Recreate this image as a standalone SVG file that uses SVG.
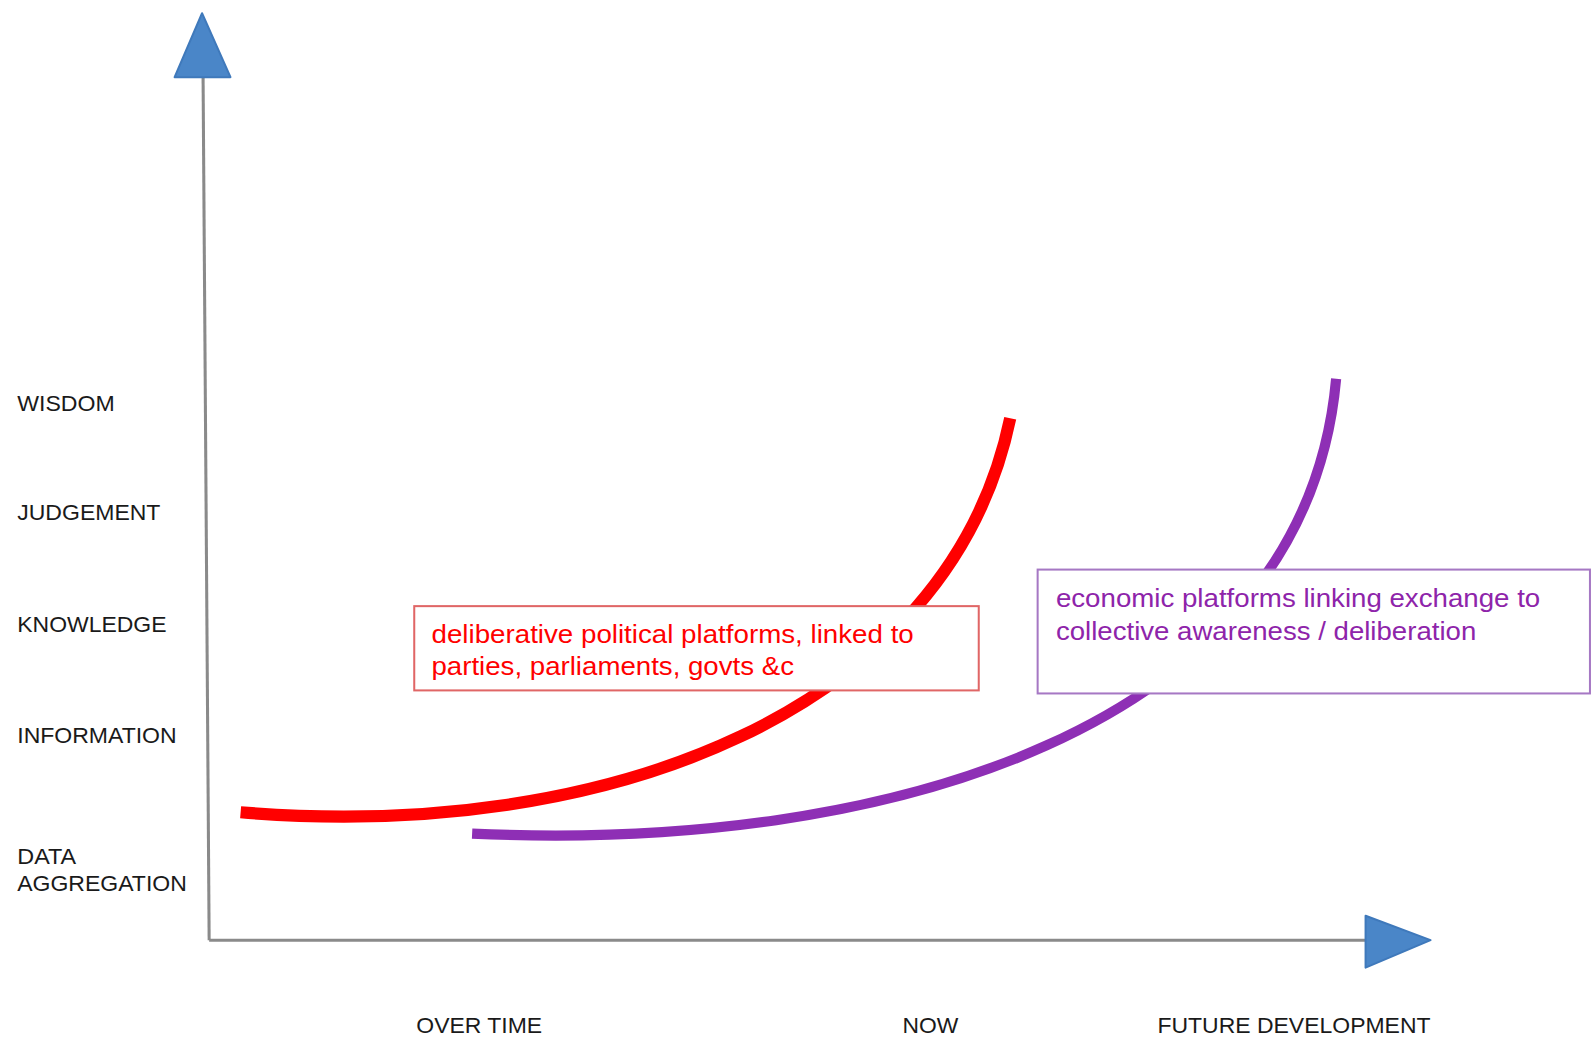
<svg xmlns="http://www.w3.org/2000/svg" width="1592" height="1039" viewBox="0 0 1592 1039">
<style>
.lab{font-family:"Liberation Sans",Arial,sans-serif;font-size:22px;fill:#1a1a1a}
.red{font-family:"Liberation Sans",Arial,sans-serif;font-size:26px;fill:#ff0000}
.pur{font-family:"Liberation Sans",Arial,sans-serif;font-size:26px;fill:#8e24aa}
.axis{stroke:#8a8a8a;stroke-width:3;fill:none}
.head{fill:#4a86c8;stroke:#3f79bb;stroke-width:2;stroke-linejoin:round}
</style>
<rect width="1592" height="1039" fill="#ffffff"/>
<g id="diagram" transform="scale(1.0153)">
<g id="connectors">
<line class="axis" x1="200" y1="74" x2="206" y2="926"/>
<line class="axis" x1="206" y1="926" x2="1346" y2="926"/>
<polygon class="head" points="199,13 227,76 172,76"/>
<polygon class="head" points="1345,902 1409,926 1345,953"/>
<path d="M237,800 C600,830 935,700 995,412" fill="none" stroke="#ff0000" stroke-width="12"/>
<path d="M465,821 C870,840 1285,720 1316,373" fill="none" stroke="#8e2fb5" stroke-width="10"/>
</g>
<g id="y-labels">
<text class="lab" x="17" y="405" textLength="96" lengthAdjust="spacingAndGlyphs">WISDOM</text>
<text class="lab" x="17" y="512" textLength="141" lengthAdjust="spacingAndGlyphs">JUDGEMENT</text>
<text class="lab" x="17" y="622" textLength="147" lengthAdjust="spacingAndGlyphs">KNOWLEDGE</text>
<text class="lab" x="17" y="732" textLength="157" lengthAdjust="spacingAndGlyphs">INFORMATION</text>
<text class="lab" x="17" y="851" textLength="58" lengthAdjust="spacingAndGlyphs">DATA</text>
<text class="lab" x="17" y="878" textLength="167" lengthAdjust="spacingAndGlyphs">AGGREGATION</text>
</g>
<g id="x-labels">
<text class="lab" x="410" y="1017" textLength="124" lengthAdjust="spacingAndGlyphs">OVER TIME</text>
<text class="lab" x="889" y="1017" textLength="55" lengthAdjust="spacingAndGlyphs">NOW</text>
<text class="lab" x="1140" y="1017" textLength="269" lengthAdjust="spacingAndGlyphs">FUTURE DEVELOPMENT</text>
</g>
<g id="node-red">
<rect x="408" y="597" width="556" height="83" fill="#ffffff" stroke="#e06666" stroke-width="2"/>
<text class="red" x="425" y="633" textLength="475" lengthAdjust="spacingAndGlyphs">deliberative political platforms, linked to</text>
<text class="red" x="425" y="665" textLength="357" lengthAdjust="spacingAndGlyphs">parties, parliaments, govts &amp;c</text>
</g>
<g id="node-purple">
<rect x="1022" y="561" width="544" height="122" fill="#ffffff" stroke="#a678c4" stroke-width="2"/>
<text class="pur" x="1040" y="598" textLength="477" lengthAdjust="spacingAndGlyphs">economic platforms linking exchange to</text>
<text class="pur" x="1040" y="630" textLength="414" lengthAdjust="spacingAndGlyphs">collective awareness / deliberation</text>
</g>
</g>
</svg>
